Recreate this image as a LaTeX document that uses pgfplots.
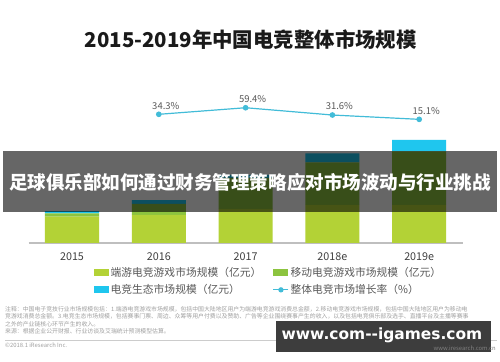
\documentclass[border=0pt]{standalone}
\usepackage{pgfplots}
\pgfplotsset{compat=1.18}
\usepackage{fontspec}
\setmainfont{Noto Sans CJK SC}
\newfontfamily\dejavu{DejaVu Sans}
\definecolor{limec}{HTML}{B3D236}
\definecolor{mgreen}{HTML}{8CC43F}
\definecolor{eblue}{HTML}{1FC6EE}
\definecolor{linec}{HTML}{42BCD8}
\definecolor{titlec}{HTML}{1A1A1A}
\definecolor{labc}{HTML}{595959}
\definecolor{tickc}{HTML}{404040}
\definecolor{notec}{HTML}{A0A0A0}
\definecolor{boxc}{HTML}{3D3D3D}
\pgfplotsset{
  sqlegend/.style={legend image code/.code={\fill[##1] (0bp,-3.5bp) rectangle (15bp,3.5bp);}},
  lnlegend/.style={legend image code/.code={\draw[##1] (0bp,0bp) -- (15bp,0bp); \fill[##1] (7.5bp,0bp) circle (2bp);}}
}
\begin{document}
\begin{tikzpicture}
\useasboundingbox (0bp,0bp) rectangle (500bp,362bp);
\fill[white] (0bp,0bp) rectangle (500bp,362bp);
\node[font=\fontsize{20.5}{24}\selectfont\bfseries, text=titlec] at (250.8bp,322.5bp) {2015-2019年中国电竞整体市场规模};
\begin{axis}[
  at={(28.6bp,119bp)}, anchor=south west, scale only axis,
  width=434bp, height=130bp,
  xmin=-0.5, xmax=4.5, ymin=0, ymax=1300,
  ybar stacked, bar width=54bp,
  axis x line=bottom, axis y line=none,
  axis line style={-, draw=black!25, line width=1.2bp},
  xtick=data, xticklabels={2015,2016,2017,2018e,2019e},
  ytick=\empty,
  major tick length=0pt,
  xticklabel style={font=\fontsize{10.8}{12}\selectfont, text=tickc, anchor=center, yshift=-14bp},
  legend columns=2,
  legend cell align=left,
  legend style={at={(0.1507,-0.170)}, anchor=north west, draw=none, fill=none, inner sep=0pt,
    font=\fontsize{10.8}{13}\selectfont, text=labc, row sep=4bp,
    nodes={inner sep=1.5bp},
    /tikz/every even column/.append style={column sep=10bp}},
]
\addplot[fill=limec, draw=none, sqlegend] coordinates {(0,263) (1,281) (2,340) (3,380) (4,380)};
\addplot[fill=mgreen, draw=none, sqlegend] coordinates {(0,33) (1,110) (2,310) (3,427) (4,535)};
\addplot[fill=eblue, draw=none, sqlegend] coordinates {(0,23) (1,37) (2,32) (3,90) (4,115)};
\addlegendimage{lnlegend, draw=linec, fill=linec, line width=1.2bp}
\legend{端游电竞游戏市场规模（亿元）,移动电竞游戏市场规模（亿元）,电竞生态市场规模（亿元）,整体电竞市场增长率（\%）}
\end{axis}
\begin{axis}[
  at={(28.6bp,238.7bp)}, anchor=south west, scale only axis,
  width=434bp, height=26.2bp,
  xmin=-0.5, xmax=4.5, ymin=0, ymax=100,
  hide axis, clip=false,
]
\addplot[color=linec, line width=1.2bp, mark=*, mark size=2.2bp,
  mark options={fill=linec, draw=linec},
  nodes near coords, point meta=explicit symbolic,
  every node near coord/.style={font=\fontsize{9.5}{11}\selectfont, text=labc, anchor=south, xshift=7bp, yshift=1bp}]
  coordinates {(1,34.3)[34.3\%] (2,59.4)[59.4\%] (3,31.6)[31.6\%] (4,15.1)[15.1\%]};
\end{axis}
% overlay banner
\fill[black, opacity=0.6] (3bp,150bp) rectangle (497bp,211bp);
\node[font=\fontsize{18.6}{22}\selectfont\bfseries, text=white] at (250bp,180bp) {足球俱乐部如何通过财务管理策略应对市场波动与行业挑战};
% footnotes
\begin{scope}[every node/.style={anchor=west, inner sep=0pt, font=\fontsize{5.9}{7}\selectfont, text=notec}]
\node at (5bp,53bp) {注释：中国电子竞技行业市场规模包括：1.端游电竞游戏市场规模，包括中国大陆地区用户为端游电竞游戏消费总金额，2.移动电竞游戏市场规模，包括中国大陆地区用户为移动电};
\node at (5bp,45.5bp) {竞游戏消费总金额。3.电竞生态市场规模，包括赛事门票、周边、众筹等用户付费以及赞助、广告等企业围绕赛事产生的收入，以及包括电竞俱乐部及选手、直播平台及主播等赛事};
\node at (5bp,38bp) {之外的产业链核心环节产生的收入。};
\node at (5bp,30.5bp) {来源：根据企业公开财报、行业访谈及艾瑞统计预测模型估算。};
\node at (5bp,17bp) {©2018.1 iResearch Inc.};
\end{scope}
\draw[black!20, line width=0.6bp] (5bp,22bp) -- (497bp,22bp);
\fill[boxc] (276bp,10bp) rectangle (491bp,41bp);
\node[font=\dejavu\fontsize{15.5}{18}\selectfont\bfseries, text=white] at (382bp,26.5bp) {www.com--igames.com};
\node[anchor=east, inner sep=0pt, font=\fontsize{5.9}{7}\selectfont, text=black!50] at (496bp,13.8bp) {www.iresearch.com.cn};
\end{tikzpicture}
\end{document}
